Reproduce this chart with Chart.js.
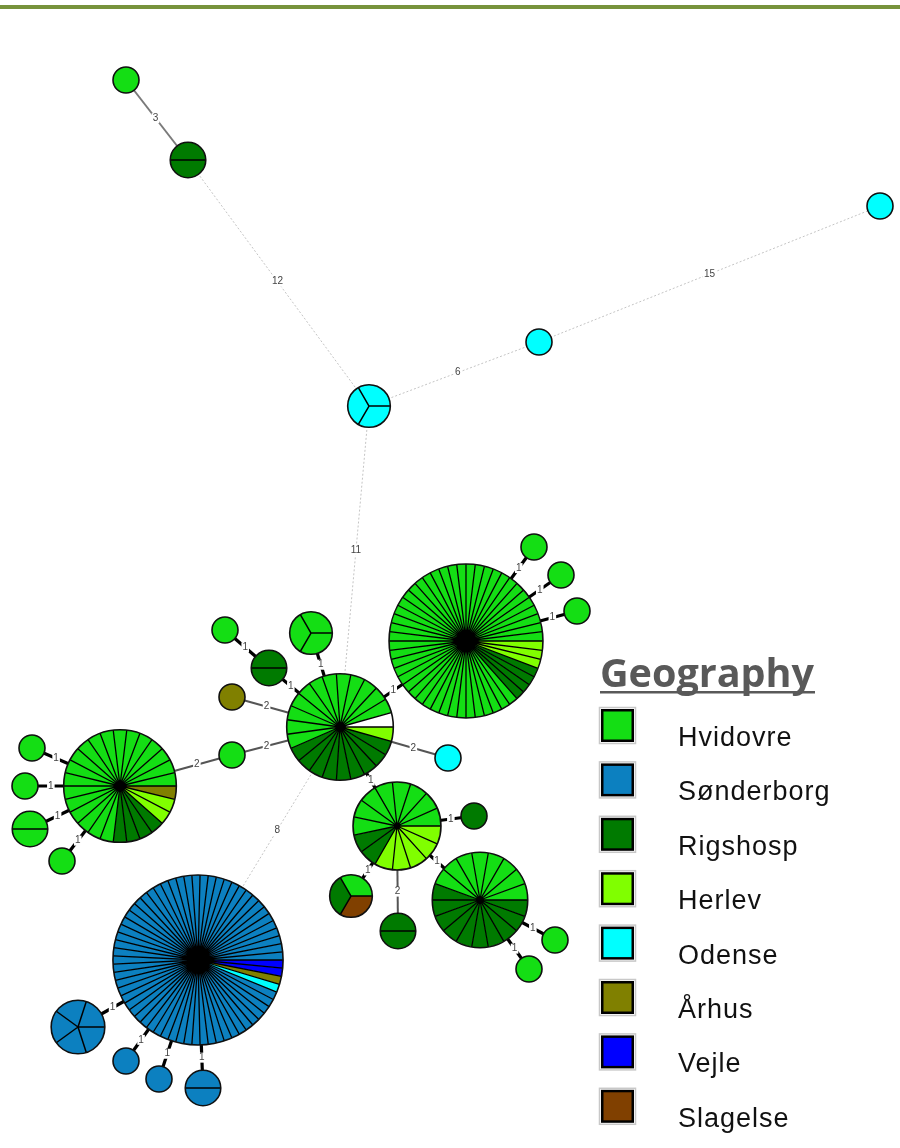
<!DOCTYPE html>
<html>
<head>
<meta charset="utf-8">
<title>Minimum spanning tree – Geography</title>
<style>
  html, body { margin: 0; padding: 0; background: #ffffff; }
  canvas { display: block; }
</style>
<script src="https://cdn.jsdelivr.net/npm/chart.js@4.4.1/dist/chart.umd.min.js"></script>
</head>
<body>
<canvas id="mst" width="900" height="1148"></canvas>
<script>
// ---- Regions (legend order) ----
const regions = ['Hvidovre', 'Sønderborg', 'Rigshosp', 'Herlev', 'Odense', 'Århus', 'Vejle', 'Slagelse'];
const regionColors = ['#14DE14', '#0C80C0', '#007A00', '#80FF00', '#00FFFF', '#808000', '#0000FF', '#804000'];
const unknownColor = '#FFFFFF';

// ---- Isolates per node and region (node index 0..32) ----
const hvidovre   = [1,0,0,0,0,12,45,1,1,1,3,0,1,0,1,0,19,1,1,2,1,8,0,1,0,8,1,1,0,0,0,0,0];
const sonderborg = [0,0,0,0,0,0,0,0,0,0,0,0,0,0,0,0,0,0,0,0,0,0,0,0,0,0,0,0,61,5,1,1,2];
const rigshosp   = [0,2,0,0,0,9,4,0,0,0,0,2,0,0,0,0,4,0,0,0,0,2,1,1,2,10,0,0,0,0,0,0,0];
const herlev     = [0,0,0,0,0,1,3,0,0,0,0,0,0,0,0,0,2,0,0,0,0,5,0,0,0,0,0,0,0,0,0,0,0];
const odense     = [0,0,3,1,1,0,0,0,0,0,0,0,0,0,0,1,0,0,0,0,0,0,0,0,0,0,0,0,1,0,0,0,0];
const arhus      = [0,0,0,0,0,0,0,0,0,0,0,0,0,1,0,0,1,0,0,0,0,0,0,0,0,0,0,0,1,0,0,0,0];
const vejle      = [0,0,0,0,0,0,0,0,0,0,0,0,0,0,0,0,0,0,0,0,0,0,0,0,0,0,0,0,2,0,0,0,0];
const slagelse   = [0,0,0,0,0,0,0,0,0,0,0,0,0,0,0,0,0,0,0,0,0,0,0,1,0,0,0,0,0,0,0,0,0];
const unknown    = [0,0,0,0,0,1,0,0,0,0,0,0,0,0,0,0,0,0,0,0,0,0,0,0,0,0,0,0,0,0,0,0,0];

// ---- Tree layout (node coordinates) ----
const layoutX = [126,188,369,539,880,340,466,534,561,577,311,269,225,232,232,448,120,32,25,30,62,397,474,351,398,480,555,529,198,78,126,159,203];
const layoutY = [80,160,406,342,206,727,641,547,575,611,633,668,630,697,755,758,786,748,786,829,861,826,816,896,931,900,940,969,960,1027,1061,1079,1088];

// ---- Branches: node pairs and allele distance ----
const edgeFrom = [0,1,2,3,2,5,6,6,6,5,5,11,5,5,14,5,16,16,16,16,5,21,21,21,21,25,25,5,28,28,28,28];
const edgeTo   = [1,2,3,4,5,6,7,8,9,10,11,12,13,14,16,15,17,18,19,20,21,22,23,24,25,26,27,28,29,30,31,32];
const edgeDist = [3,12,6,15,11,1,1,1,1,1,1,1,2,2,2,2,1,1,1,1,1,1,1,2,1,1,1,8,1,1,1,1];

// Slice order inside each pie, starting at 3 o'clock and running clockwise
const sliceOrder = [
  { counts: slagelse,   color: regionColors[7] },
  { counts: vejle,      color: regionColors[6] },
  { counts: arhus,      color: regionColors[5] },
  { counts: odense,     color: regionColors[4] },
  { counts: herlev,     color: regionColors[3] },
  { counts: rigshosp,   color: regionColors[2] },
  { counts: hvidovre,   color: regionColors[0] },
  { counts: sonderborg, color: regionColors[1] },
  { counts: unknown,    color: unknownColor }
];

const nodeTotal = layoutX.map((_, i) => sliceOrder.reduce((s, c) => s + c.counts[i], 0));
const radiusFor = n => 13 * Math.pow(n, 0.45);

function edgeStyle(d) {
  if (d <= 1) return { color: '#000000', width: 3.2, dash: [] };
  if (d === 2) return { color: '#555555', width: 2, dash: [] };
  if (d === 3) return { color: '#7a7a7a', width: 2, dash: [] };
  return { color: '#c4c4c4', width: 1, dash: [2, 2] };
}

const edgeDatasets = edgeFrom.map((a, k) => {
  const b = edgeTo[k];
  const st = edgeStyle(edgeDist[k]);
  return {
    type: 'line',
    data: [{ x: layoutX[a], y: layoutY[a] }, { x: layoutX[b], y: layoutY[b] }],
    borderColor: st.color,
    borderWidth: st.width,
    borderDash: st.dash,
    pointRadius: 0,
    fill: false,
    tension: 0,
    clip: false,
    order: 2
  };
});

const nodeDataset = {
  type: 'bubble',
  label: 'nodes',
  data: layoutX.map((x, i) => ({ x: x, y: layoutY[i], r: radiusFor(nodeTotal[i]) })),
  backgroundColor: 'rgba(0,0,0,0)',
  borderWidth: 0,
  hoverRadius: 0,
  clip: false,
  order: 1
};

// Draws each node as a pie of isolates, plus branch distance labels
const mstPies = {
  id: 'mstPies',
  afterDatasetsDraw(chart) {
    const ctx = chart.ctx;
    const idx = chart.data.datasets.indexOf(nodeDataset);
    const meta = chart.getDatasetMeta(idx);
    const pos = meta.data.map(el => ({ x: el.x, y: el.y, r: el.options.radius }));

    // branch labels sit in the middle of the visible part of each branch
    ctx.save();
    ctx.font = '10px "Liberation Sans", Arial, sans-serif';
    ctx.textAlign = 'center';
    ctx.textBaseline = 'middle';
    edgeFrom.forEach((a, k) => {
      const p = pos[a], q = pos[edgeTo[k]];
      const dx = q.x - p.x, dy = q.y - p.y;
      const len = Math.hypot(dx, dy);
      const ux = dx / len, uy = dy / len;
      const s = p.r, e = len - q.r;
      const t = (s + e) / 2;
      const mx = p.x + ux * t, my = p.y + uy * t;
      const txt = String(edgeDist[k]);
      const w = ctx.measureText(txt).width;
      ctx.fillStyle = '#ffffff';
      ctx.fillRect(mx - w / 2 - 1, my - 5, w + 2, 10);
      ctx.fillStyle = '#444444';
      ctx.fillText(txt, mx, my);
    });
    ctx.restore();

    // pies
    ctx.save();
    pos.forEach((p, i) => {
      const total = nodeTotal[i];
      const step = Math.PI * 2 / total;
      let a0 = 0;
      if (total === 1) {
        const c = sliceOrder.find(o => o.counts[i] > 0);
        ctx.beginPath();
        ctx.arc(p.x, p.y, p.r, 0, Math.PI * 2);
        ctx.fillStyle = c.color;
        ctx.fill();
      } else {
        const angles = [];
        sliceOrder.forEach(o => {
          for (let k = 0; k < o.counts[i]; k++) {
            ctx.beginPath();
            ctx.moveTo(p.x, p.y);
            ctx.arc(p.x, p.y, p.r, a0, a0 + step);
            ctx.closePath();
            ctx.fillStyle = o.color;
            ctx.fill();
            angles.push(a0);
            a0 += step;
          }
        });
        ctx.strokeStyle = '#000000';
        ctx.lineWidth = total > 10 ? 1.3 : 1.5;
        ctx.beginPath();
        angles.forEach(a => {
          ctx.moveTo(p.x, p.y);
          ctx.lineTo(p.x + Math.cos(a) * p.r, p.y + Math.sin(a) * p.r);
        });
        ctx.stroke();
      }
      ctx.beginPath();
      ctx.arc(p.x, p.y, p.r, 0, Math.PI * 2);
      ctx.strokeStyle = '#101010';
      ctx.lineWidth = 1.6;
      ctx.stroke();
    });
    ctx.restore();
  },
  afterDraw(chart) {
    const ctx = chart.ctx;
    ctx.save();
    // header rule
    ctx.fillStyle = '#77933C';
    ctx.fillRect(0, 5, chart.width, 4);

    // legend title
    const title = 'Geography';
    ctx.font = 'bold 40px "Open Sans", "DejaVu Sans", sans-serif';
    ctx.textBaseline = 'alphabetic';
    ctx.textAlign = 'left';
    const tw = ctx.measureText(title).width;
    ctx.save();
    ctx.translate(600, 687);
    ctx.scale(214 / tw, 1);
    ctx.fillStyle = '#595959';
    ctx.fillText(title, 0, 0);
    ctx.restore();
    ctx.fillStyle = '#595959';
    ctx.fillRect(600, 691, 215, 2.5);

    // legend entries
    ctx.font = '27px "Liberation Sans", Arial, sans-serif';
    if ('letterSpacing' in ctx) ctx.letterSpacing = '1px';
    regions.forEach((name, i) => {
      const top = 709 + i * 54.4;
      ctx.strokeStyle = '#c8c8c8';
      ctx.lineWidth = 1.5;
      ctx.strokeRect(599.5, top - 1.5, 36, 36);
      ctx.fillStyle = '#000000';
      ctx.fillRect(601, top, 33, 33);
      ctx.fillStyle = regionColors[i];
      ctx.fillRect(603.5, top + 2.5, 28, 28);
      ctx.fillStyle = '#111111';
      ctx.fillText(name, 678, 746 + i * 54.4);
    });
    ctx.restore();
  }
};

new Chart(document.getElementById('mst'), {
  type: 'bubble',
  data: { datasets: [nodeDataset, ...edgeDatasets] },
  options: {
    responsive: false,
    animation: false,
    events: [],
    layout: { padding: 0, autoPadding: false },
    plugins: { legend: { display: false }, tooltip: { enabled: false }, title: { display: false } },
    scales: {
      x: { type: 'linear', min: 0, max: 900, display: false },
      y: { type: 'linear', min: 0, max: 1148, reverse: true, display: false }
    }
  },
  plugins: [mstPies]
});
</script>
</body>
</html>
